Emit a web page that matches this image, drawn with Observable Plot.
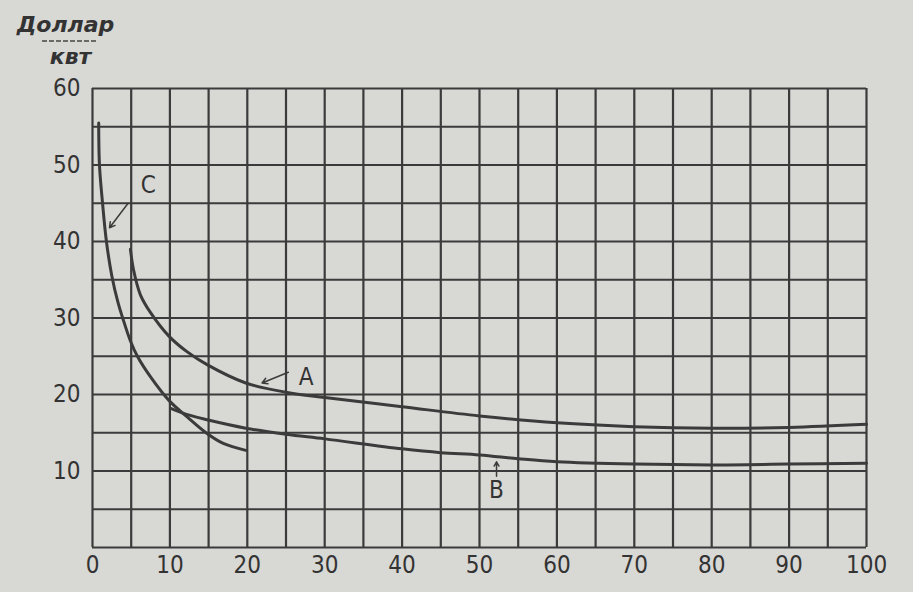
<!DOCTYPE html>
<html><head><meta charset="utf-8">
<script src="https://cdn.jsdelivr.net/npm/d3@7"></script>
<script src="https://cdn.jsdelivr.net/npm/@observablehq/plot@0.6"></script>
<style>
html,body{margin:0;padding:0;background:#d8d8d5;}
#chart{width:913px;height:592px;}
</style></head><body><div id="chart"></div>
<script>
// Curve A
const aX = [4.9, 5.3, 6.2, 7.5, 9.9, 12.2, 14.8, 19.8, 25, 30, 40, 50, 60, 70, 80, 90, 100];
const aY = [39, 36.3, 33, 30.7, 27.6, 25.6, 23.9, 21.5, 20.3, 19.6, 18.4, 17.2, 16.3, 15.8, 15.6, 15.7, 16.1];
// Curve B
const bX = [10.1, 12.5, 14.8, 19.8, 25, 30, 40, 45, 50, 55, 60, 70, 80, 90, 100];
const bY = [18.2, 17.3, 16.7, 15.6, 14.8, 14.2, 12.9, 12.4, 12.1, 11.6, 11.2, 10.9, 10.8, 10.9, 11.0];
// Curve C
const cX = [0.8, 0.9, 1.3, 1.8, 2.5, 3.3, 3.9, 4.9, 5.8, 7.5, 9.9, 12.2, 14.8, 16.9, 19.8];
const cY = [55.5, 50, 45, 40, 35.5, 32, 30, 27, 25, 22.3, 19.2, 17.1, 14.9, 13.6, 12.7];

const xTicks = [0, 10, 20, 30, 40, 50, 60, 70, 80, 90, 100];
const yTicks = [10, 20, 30, 40, 50, 60];
const xGrid = [0,5,10,15,20,25,30,35,40,45,50,55,60,65,70,75,80,85,90,95,100];
const yGrid = [0,5,10,15,20,25,30,35,40,45,50,55,60];

const labels = [
  {name: "C", x: 7.2, y: 47.3},
  {name: "A", x: 27.6, y: 22.3},
  {name: "B", x: 52.2, y: 7.5}
];
const arrows = [
  {x1: 4.6, y1: 45, x2: 2.2, y2: 41.8},
  {x1: 25.3, y1: 22.9, x2: 21.9, y2: 21.5},
  {x1: 52.2, y1: 9.3, x2: 52.2, y2: 11.2}
];
const titleLines = ["Доллар", "квт"];

const toPts = (xs, ys) => xs.map((x, i) => ({x, y: ys[i]}));
const ink = "#3b3b3b";
const font = "'Liberation Sans Narrow', 'DejaVu Sans Condensed', sans-serif";
const titleFont = "'DejaVu Sans', sans-serif";

const plot = Plot.plot({
  width: 913, height: 592,
  marginLeft: 92, marginRight: 47, marginTop: 88, marginBottom: 45,
  style: {background: "#d8d8d5", fontFamily: font},
  x: {domain: [0, 100], label: null},
  y: {domain: [0, 60], label: null},
  marks: [
    Plot.ruleX(xGrid, {x: d => d, stroke: ink, strokeWidth: 2.2}),
    Plot.ruleY(yGrid, {y: d => d, stroke: ink, strokeWidth: 2.2}),
    Plot.axisX({ticks: xTicks, tickSize: 0, tickPadding: 8, fontSize: 24, fill: "#333", tickFormat: d => String(d)}),
    Plot.axisY({ticks: yTicks, tickSize: 0, tickPadding: 12, fontSize: 24, fill: "#333"}),
    Plot.line(toPts(aX, aY), {x: "x", y: "y", curve: "catmull-rom", stroke: ink, strokeWidth: 3}),
    Plot.line(toPts(bX, bY), {x: "x", y: "y", curve: "catmull-rom", stroke: ink, strokeWidth: 3}),
    Plot.line(toPts(cX, cY), {x: "x", y: "y", curve: "catmull-rom", stroke: ink, strokeWidth: 3}),
    Plot.arrow(arrows, {x1: "x1", y1: "y1", x2: "x2", y2: "y2", stroke: ink, strokeWidth: 1.5, headLength: 6}),
    Plot.text(labels, {x: "x", y: "y", text: "name", fontSize: 24, fill: "#333", fontFamily: font}),
    Plot.text([titleLines[0]], {text: d => d, frameAnchor: "top-left", textAnchor: "middle", dx: -27, dy: -72, fontSize: 22, fontStyle: "italic", fontWeight: "bold", fill: "#333", fontFamily: titleFont}),
    Plot.text([titleLines[1]], {text: d => d, frameAnchor: "top-left", textAnchor: "middle", dx: -22, dy: -40, fontSize: 22, fontStyle: "italic", fontWeight: "bold", fill: "#333", fontFamily: titleFont})
  ]
});
document.getElementById("chart").appendChild(plot);
// fraction bar under "Доллар"
d3.select(plot).append("line").attr("x1", 42).attr("x2", 98).attr("y1", 41).attr("y2", 41)
  .attr("stroke", "#444").attr("stroke-width", 1.5).attr("stroke-dasharray", "5,2");
</script></body></html>
